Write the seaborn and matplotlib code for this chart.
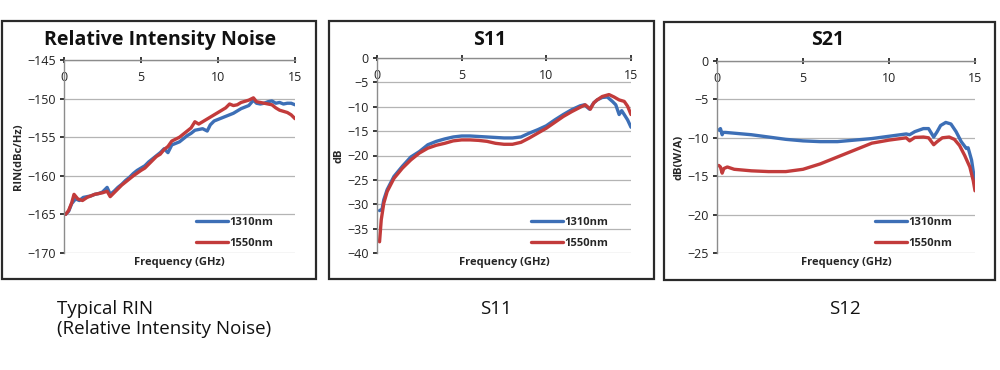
import pandas as pd
import matplotlib.pyplot as plt
import seaborn as sns
from matplotlib.patches import Rectangle

# -----------------------------
# Data
# -----------------------------
series_names = ["1310nm", "1550nm"]
colors = ["#3d6fb6", "#c23b3b"]

rin_f_1310 = [0.1, 0.3, 0.5, 0.75, 1.0, 1.25, 1.5, 1.75, 2.0, 2.25, 2.5, 2.8, 3.0, 3.25, 3.5,
              3.75, 4.0, 4.25, 4.5, 4.75, 5.0, 5.25, 5.5, 5.75, 6.0, 6.25, 6.5, 6.75, 7.0, 7.25,
              7.5, 7.75, 8.0, 8.25, 8.5, 8.75, 9.0, 9.3, 9.5, 9.75, 10.0, 10.25, 10.5, 10.75,
              11.0, 11.25, 11.5, 11.75, 12.0, 12.3, 12.5, 12.75, 13.0, 13.25, 13.5, 13.75,
              14.0, 14.25, 14.5, 14.75, 15.0]
rin_v_1310 = [-165.0, -164.6, -163.6, -163.0, -163.2, -162.8, -162.7, -162.6, -162.4, -162.3,
              -162.1, -161.5, -162.4, -162.0, -161.5, -161.1, -160.6, -160.2, -159.7, -159.3,
              -159.0, -158.7, -158.2, -157.8, -157.4, -157.0, -156.5, -157.0, -156.0, -155.8,
              -155.6, -155.2, -154.8, -154.5, -154.1, -154.0, -153.9, -154.2, -153.4, -152.9,
              -152.7, -152.5, -152.3, -152.1, -151.9, -151.6, -151.3, -151.1, -150.9, -150.2,
              -150.6, -150.7, -150.6, -150.4, -150.3, -150.6, -150.5, -150.7, -150.6, -150.6,
              -150.8]

rin_f_1550 = [0.1, 0.3, 0.5, 0.65, 0.9, 1.2, 1.5, 1.75, 2.0, 2.5, 2.8, 3.0, 3.25, 3.5, 3.75,
              4.0, 4.5, 5.0, 5.25, 5.5, 5.75, 6.0, 6.25, 6.5, 6.75, 7.0, 7.5, 7.75, 8.0, 8.25,
              8.5, 8.75, 9.0, 9.5, 10.0, 10.5, 10.75, 11.0, 11.25, 11.5, 12.0, 12.3, 12.5,
              13.0, 13.5, 13.75, 14.0, 14.5, 14.75, 15.0]
rin_v_1550 = [-165.0, -164.5, -163.5, -162.4, -163.0, -163.2, -162.8, -162.6, -162.4, -162.2,
              -162.0, -162.7, -162.2, -161.7, -161.2, -160.8, -160.0, -159.3, -159.0, -158.5,
              -158.0, -157.5, -157.2, -156.6, -156.2, -155.5, -155.0, -154.6, -154.2, -153.8,
              -153.0, -153.3, -153.0, -152.4, -151.8, -151.2, -150.7, -150.9, -150.8, -150.5,
              -150.2, -149.9, -150.4, -150.6, -150.8, -151.2, -151.5, -151.8, -152.1, -152.6]

s11_f_1310 = [0.15, 0.3, 0.4, 0.6, 1.0, 1.5, 2.0, 2.5, 3.0, 3.5, 4.0, 4.5, 5.0, 5.5, 6.0, 6.5,
              7.0, 7.5, 8.0, 8.5, 9.0, 9.5, 10.0, 10.5, 11.0, 11.5, 12.0, 12.25, 12.55, 12.8,
              13.0, 13.3, 13.6, 13.9, 14.1, 14.3, 14.45, 14.6, 14.8, 15.0]
s11_v_1310 = [-31.3, -31.0, -29.1, -27.0, -24.3, -22.2, -20.3, -19.2, -17.8, -17.1, -16.6,
              -16.2, -16.0, -16.0, -16.1, -16.2, -16.3, -16.4, -16.4, -16.2, -15.4, -14.7,
              -13.9, -12.7, -11.6, -10.6, -9.8, -9.6, -10.5, -9.2, -8.6, -8.1, -8.0, -8.9,
              -9.6, -11.6, -10.8, -11.6, -12.7, -14.2]

s11_f_1550 = [0.15, 0.25, 0.4, 0.6, 1.0, 1.5, 2.0, 2.5, 3.0, 3.5, 4.0, 4.5, 5.0, 5.5, 6.0, 6.5,
              7.0, 7.5, 8.0, 8.5, 9.0, 9.5, 10.0, 10.5, 11.0, 11.5, 12.0, 12.3, 12.6, 12.8,
              13.0, 13.3, 13.7, 14.0, 14.3, 14.6, 14.8, 15.0]
s11_v_1550 = [-37.7, -33.2, -29.8, -27.4, -24.7, -22.6, -20.9, -19.5, -18.5, -17.9, -17.5,
              -17.0, -16.8, -16.8, -16.9, -17.1, -17.5, -17.7, -17.7, -17.3, -16.4, -15.4,
              -14.4, -13.2, -12.0, -11.0, -10.1, -9.6, -10.5, -9.2, -8.6, -7.9, -7.5, -8.0,
              -8.6, -8.9, -9.9, -11.6]

s21_f_1310 = [0.1, 0.2, 0.3, 0.35, 0.5, 1.0, 2.0, 3.0, 4.0, 5.0, 6.0, 7.0, 8.0, 9.0, 10.0, 11.0,
              11.2, 11.5, 12.0, 12.3, 12.6, 12.8, 13.0, 13.3, 13.6, 13.9, 14.2, 14.5, 14.6,
              14.8, 15.0]
s21_v_1310 = [-9.0, -8.8, -9.6, -9.3, -9.3, -9.4, -9.6, -9.9, -10.2, -10.4, -10.5, -10.5,
              -10.3, -10.1, -9.8, -9.5, -9.6, -9.2, -8.8, -8.8, -9.9, -9.2, -8.4, -8.0, -8.2,
              -9.2, -10.5, -11.4, -11.3, -12.9, -15.9]

s21_f_1550 = [0.1, 0.2, 0.3, 0.4, 0.6, 1.0, 2.0, 3.0, 4.0, 5.0, 6.0, 7.0, 8.0, 9.0, 10.0, 11.0,
              11.2, 11.5, 12.0, 12.3, 12.6, 12.8, 13.1, 13.5, 13.8, 14.1, 14.4, 14.7, 14.9, 15.0]
s21_v_1550 = [-13.6, -13.8, -14.6, -14.0, -13.8, -14.1, -14.3, -14.4, -14.4, -14.1, -13.4,
              -12.5, -11.6, -10.7, -10.3, -10.0, -10.4, -9.95, -9.9, -10.0, -10.9, -10.5,
              -10.0, -9.9, -10.2, -11.0, -12.3, -13.8, -15.6, -16.9]

titles = ["Relative Intensity Noise", "S11", "S21"]
ylabels = ["RIN(dBc/Hz)", "dB", "dB(W/A)"]
yticks = [[-170, -165, -160, -155, -150, -145],
          [-40, -35, -30, -25, -20, -15, -10, -5, 0],
          [-25, -20, -15, -10, -5, 0]]
xticks = [0, 5, 10, 15]
captions = ["Typical RIN\n(Relative Intensity Noise)", "S11", "S12"]


def make_frame(f_a, v_a, f_b, v_b):
    a = pd.DataFrame({"freq": f_a, "value": v_a, "series": series_names[0]})
    b = pd.DataFrame({"freq": f_b, "value": v_b, "series": series_names[1]})
    return pd.concat([a, b], ignore_index=True)


frames = [make_frame(rin_f_1310, rin_v_1310, rin_f_1550, rin_v_1550),
          make_frame(s11_f_1310, s11_v_1310, s11_f_1550, s11_v_1550),
          make_frame(s21_f_1310, s21_v_1310, s21_f_1550, s21_v_1550)]

# -----------------------------
# Figure layout (pixel boxes)
# -----------------------------
sns.set_theme(style="white")
plt.rcParams["font.family"] = ["Open Sans", "DejaVu Sans"]

W, H = 1000, 370
fig = plt.figure(figsize=(W / 100, H / 100), dpi=100)

# plot areas: left, top, right, bottom in pixels
axes_px = [(64, 60, 295, 253), (377, 58, 631, 253), (717, 61, 975, 253)]
frames_px = [(2, 21, 316, 279), (329, 21, 654, 279), (664, 22, 995, 280)]
title_x = [160, 490, 828]
caption_x = [57, 480, 829]

for i in range(3):
    fl, ft, fr, fb = frames_px[i]
    fig.patches.append(Rectangle((fl / W, 1 - fb / H), (fr - fl) / W, (fb - ft) / H,
                                 transform=fig.transFigure, fill=False,
                                 edgecolor="#2a2a2a", linewidth=1.6))

    l, t, r, b = axes_px[i]
    ax = fig.add_axes([l / W, 1 - b / H, (r - l) / W, (b - t) / H])
    sns.lineplot(data=frames[i], x="freq", y="value", hue="series",
                 palette=colors, linewidth=2.4, ax=ax)

    ax.set_xlim(0, 15)
    ax.set_ylim(yticks[i][0], yticks[i][-1])
    ax.set_xticks(xticks)
    ax.set_yticks(yticks[i])
    ax.yaxis.grid(True, color="#b4b4b4", linewidth=0.9)
    ax.xaxis.grid(False)

    ax.tick_params(axis="x", top=True, bottom=False, labeltop=True, labelbottom=False,
                   direction="inout", length=4, pad=-19, labelsize=9, colors="#222222")
    ax.tick_params(axis="y", left=True, direction="out", length=3, labelsize=9,
                   colors="#222222", pad=3)
    for side in ["right", "bottom"]:
        ax.spines[side].set_visible(False)
    for side in ["top", "left"]:
        ax.spines[side].set_color("#8c8c8c")
        ax.spines[side].set_linewidth(1)

    ax.set_xlabel("Frequency (GHz)", fontsize=8, fontweight="bold", labelpad=3)
    ax.set_ylabel(ylabels[i], fontsize=8, fontweight="bold", labelpad=2)

    leg = ax.legend(loc="lower right", bbox_to_anchor=(0.95, -0.03), frameon=False,
                    fontsize=8, handlelength=2.9, handletextpad=0.1, labelspacing=0.9)
    for line in leg.get_lines():
        line.set_linewidth(2.4)
    for txt in leg.get_texts():
        txt.set_fontweight("bold")

    fig.text(title_x[i] / W, 1 - 40 / H, titles[i], ha="center", va="center",
             fontsize=14, fontweight="bold", color="#111111")

    fig.text(caption_x[i] / W, 1 - 300 / H, captions[i], ha="left", va="top",
             fontsize=13.5, color="#111111", linespacing=1.15)

fig.savefig("out.png", dpi=100)
